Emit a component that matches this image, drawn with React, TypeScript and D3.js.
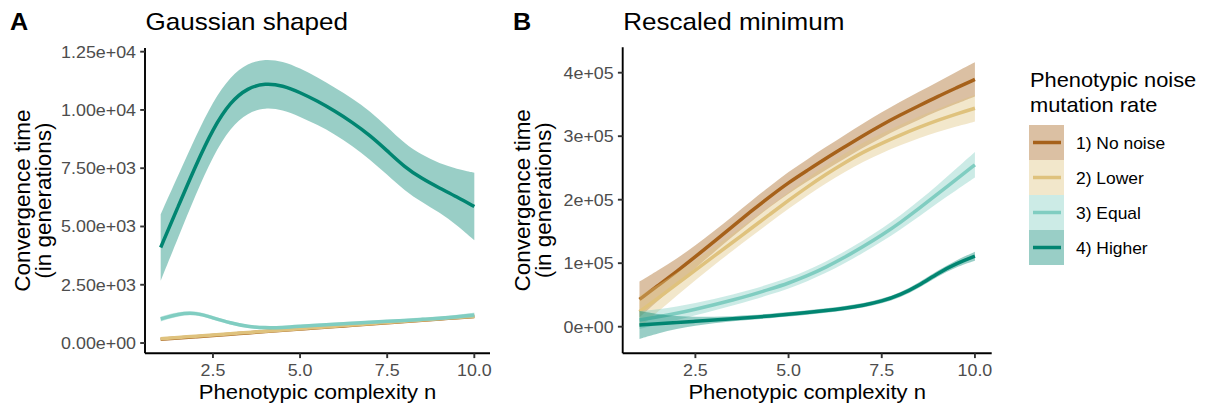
import React from 'react';
import * as d3 from 'd3';

// x grid used by every smoothed series (phenotypic complexity n)
const xs = [1, 1.5, 2, 2.5, 3, 3.5, 4, 4.5, 5, 5.5, 6, 6.5, 7, 7.5, 8, 8.5, 9, 9.5, 10];

const groups = ['1) No noise', '2) Lower', '3) Equal', '4) Higher'];
const colors = ['#a6611a', '#dfc27d', '#80cdc1', '#018571'];

// panel A: Gaussian shaped
const aNoNoise = [160, 215, 270, 325, 380, 435, 490, 545, 600, 655, 710, 760, 815, 870, 925, 980, 1035, 1085, 1140];
const aLower = [185, 240, 290, 345, 400, 450, 505, 560, 615, 665, 720, 775, 830, 880, 935, 990, 1045, 1095, 1150];
const aEqual = [1030, 1250, 1310, 1080, 860, 700, 650, 665, 715, 765, 810, 850, 890, 930, 970, 1015, 1060, 1120, 1200];
const aHigher = [4100, 5850, 7600, 9200, 10350, 10950, 11150, 11050, 10750, 10380, 9950, 9470, 8920, 8250, 7550, 7050, 6650, 6270, 5855];

const aSeNoNoise = [40, 36, 32, 28, 26, 25, 24, 24, 24, 24, 24, 24, 24, 25, 26, 28, 31, 36, 42];
const aSeLower = [45, 40, 35, 30, 28, 26, 25, 25, 25, 25, 25, 25, 25, 26, 28, 30, 33, 38, 45];
const aSeEqual = [110, 95, 85, 80, 75, 70, 70, 70, 70, 70, 70, 70, 70, 70, 72, 75, 80, 90, 105];
const aSeHigher = [1430, 1330, 1250, 1170, 1100, 1060, 1040, 1040, 1040, 1020, 1000, 1020, 1040, 1030, 1010, 1010, 1050, 1200, 1450];

// panel B: Rescaled minimum
const bNoNoise = [43000, 65000, 87000, 110000, 134000, 158000, 182000, 205000, 227000, 246000, 265000, 283000, 301000, 318000, 333500, 348000, 362500, 376000, 389500];
const bLower = [23600, 45000, 67000, 89000, 111000, 133000, 155000, 177000, 199000, 220000, 240000, 258000, 275000, 289000, 302000, 314000, 325000, 335000, 344000];
const bEqual = [10500, 15500, 21000, 27500, 34500, 42000, 50000, 59000, 68500, 80000, 93500, 109000, 126000, 144000, 164000, 186000, 209000, 232000, 255000];
const bHigher = [2700, 4600, 6500, 8500, 10500, 12500, 14600, 16900, 19400, 22200, 25300, 29000, 33500, 40000, 50000, 65000, 84000, 99500, 111000];

const bSeNoNoise = [28000, 24000, 20000, 18000, 16500, 16000, 16000, 16500, 17000, 17500, 18000, 18500, 19000, 20000, 21000, 22000, 23000, 25000, 27000];
const bSeLower = [25000, 21000, 18000, 15500, 14000, 13500, 13000, 13000, 13000, 13500, 14000, 14500, 15000, 15500, 16000, 17000, 18000, 19500, 21000];
const bSeEqual = [14000, 12000, 10500, 9500, 9000, 8500, 8500, 8500, 8500, 8700, 9000, 9300, 9700, 10200, 11000, 12500, 14000, 17000, 20000];
const bSeHigher = [22000, 15000, 10000, 7000, 5000, 4000, 3600, 3500, 3500, 3500, 3500, 3500, 3500, 3700, 4000, 4200, 4500, 5500, 7000];

const xTicks = [2.5, 5, 7.5, 10];
const xTickLabels = ['2.5', '5.0', '7.5', '10.0'];
const aYTicks = [0, 2500, 5000, 7500, 10000, 12500];
const aYTickLabels = ['0.00e+00', '2.50e+03', '5.00e+03', '7.50e+03', '1.00e+04', '1.25e+04'];
const bYTicks = [0, 100000, 200000, 300000, 400000];
const bYTickLabels = ['0e+00', '1e+05', '2e+05', '3e+05', '4e+05'];

const W = 1207;
const H = 412;
const SX = 1.05; // glyphs in the reference run a bit wider than Arial
const FONT = '"Liberation Sans", Arial, Helvetica, sans-serif';

const T = ({ x, y, size, anchor = 'start', rot = 0, weight = 'normal', fill = '#000', children }: any) => (
  <text
    transform={`translate(${x},${y})${rot ? ` rotate(${rot})` : ''} scale(${SX},1)`}
    textAnchor={anchor}
    fontSize={size}
    fontWeight={weight}
    fill={fill}
    fontFamily={FONT}
  >
    {children}
  </text>
);

const panels = [
  {
    tag: 'A', tagX: 10, title: 'Gaussian shaped',
    left: 145, right: 490, top: 48, bottom: 353.3,
    yDomain: [-441, 12658], yTicks: aYTicks, yLabels: aYTickLabels,
    series: [aNoNoise, aLower, aEqual, aHigher],
    se: [aSeNoNoise, aSeLower, aSeEqual, aSeHigher],
    yTitleX: 30,
  },
  {
    tag: 'B', tagX: 513, title: 'Rescaled minimum',
    left: 622.7, right: 991.7, top: 47.3, bottom: 353.3,
    yDomain: [-41900, 440000], yTicks: bYTicks, yLabels: bYTickLabels,
    series: [bNoNoise, bLower, bEqual, bHigher],
    se: [bSeNoNoise, bSeLower, bSeEqual, bSeHigher],
    yTitleX: 530,
  },
];

const Panel = ({ p }: any) => {
  const x = d3.scaleLinear().domain([0.55, 10.45]).range([p.left, p.right]);
  const y = d3.scaleLinear().domain(p.yDomain).range([p.bottom, p.top]);
  const line = d3.line<number>()
    .x((d, i) => x(xs[i]))
    .y((d) => y(d))
    .curve(d3.curveBasis);
  const midY = (p.top + p.bottom) / 2;
  const midX = (p.left + p.right) / 2;

  return (
    <g>
      <T x={p.tagX} y={29.5} size={24} weight="bold">{p.tag}</T>
      <T x={p.left + 0.5} y={29.5} size={24.8}>{p.title}</T>

      {p.series.map((vals: number[], k: number) => {
        const se = p.se[k];
        const area = d3.area<number>()
          .x((d, i) => x(xs[i]))
          .y0((d, i) => y(d - se[i]))
          .y1((d, i) => y(d + se[i]))
          .curve(d3.curveBasis);
        return (
          <g key={`s-${k}`}>
            <path d={area(vals) || ''} fill={colors[k]} fillOpacity={0.4} stroke="none" />
            <path d={line(vals) || ''} fill="none" stroke={colors[k]} strokeWidth={3.5} />
          </g>
        );
      })}

      {/* axes */}
      <line x1={p.left} x2={p.left} y1={p.top} y2={p.bottom} stroke="#000" strokeWidth={1.9} />
      <line x1={p.left} x2={p.right} y1={p.bottom} y2={p.bottom} stroke="#000" strokeWidth={1.9} />
      {p.yTicks.map((t: number, i: number) => (
        <g key={`yt-${i}`}>
          <line x1={p.left - 4.8} x2={p.left} y1={y(t)} y2={y(t)} stroke="#333" strokeWidth={1.9} />
          <T x={p.left - 9} y={y(t) + 6} size={17} anchor="end" fill="#4d4d4d">{p.yLabels[i]}</T>
        </g>
      ))}
      {xTicks.map((t, i) => (
        <g key={`xt-${i}`}>
          <line x1={x(t)} x2={x(t)} y1={p.bottom} y2={p.bottom + 4.8} stroke="#333" strokeWidth={1.9} />
          <T x={x(t)} y={375.5} size={17} anchor="middle" fill="#4d4d4d">{xTickLabels[i]}</T>
        </g>
      ))}
      <T x={midX} y={398.5} size={21} anchor="middle">Phenotypic complexity n</T>
      <T x={p.yTitleX} y={midY} size={21.4} anchor="middle" rot={-90}>Convergence time</T>
      <T x={p.yTitleX + 20.5} y={midY} size={21.4} anchor="middle" rot={-90}>(in generations)</T>
    </g>
  );
};

const Legend = () => {
  const keyX = 1029;
  const keyTop = 125;
  const keySize = 35;
  return (
    <g>
      <T x={1030} y={87.3} size={20.8}>Phenotypic noise</T>
      <T x={1030} y={111.7} size={20.8}>mutation rate</T>
      {groups.map((g, i) => {
        const top = keyTop + i * keySize;
        const cy = top + keySize / 2;
        return (
          <g key={`lg-${i}`}>
            <rect x={keyX} y={top} width={keySize} height={keySize} fill="#fff" />
            <rect x={keyX} y={top} width={keySize} height={keySize} fill={colors[i]} fillOpacity={0.4} />
            <line x1={keyX + 4} x2={keyX + keySize - 3} y1={cy} y2={cy} stroke={colors[i]} strokeWidth={3.5} />
            <T x={1076} y={cy + 6} size={16.6}>{g}</T>
          </g>
        );
      })}
    </g>
  );
};

export default function App() {
  return (
    <svg
      width={W}
      height={H}
      viewBox={`0 0 ${W} ${H}`}
      style={{ position: 'absolute', left: 0, top: 0, background: '#fff' }}
    >
      <rect x={0} y={0} width={W} height={H} fill="#fff" />
      {panels.map((p) => <Panel key={p.tag} p={p} />)}
      <Legend />
    </svg>
  );
}
